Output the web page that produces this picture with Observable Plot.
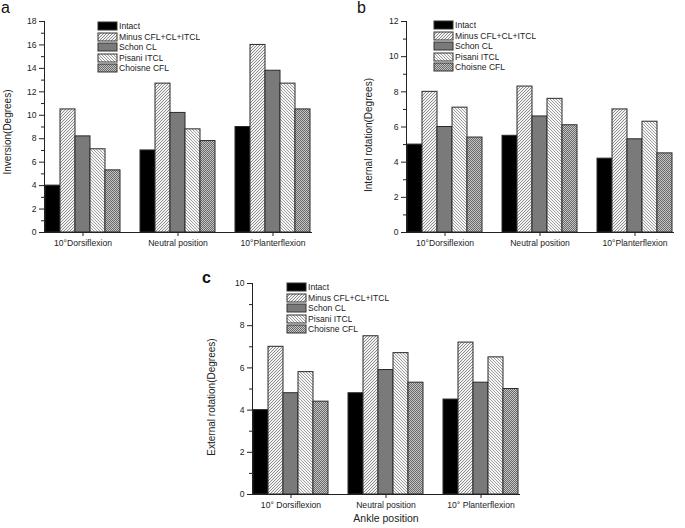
<!DOCTYPE html>
<html>
<head>
<meta charset="utf-8">
<script src="https://cdn.jsdelivr.net/npm/d3@7"></script>
<script src="https://cdn.jsdelivr.net/npm/@observablehq/plot@0.6"></script>
<style>
  body { margin: 0; background: #fff; font-family: Arial, "Liberation Sans", sans-serif; }
  #root { position: relative; width: 685px; height: 528px; overflow: hidden; background: #fff; }
  .panel { position: absolute; }
  .plab { position: absolute; font-size: 16px; color: #111; line-height: 1; }
  .ylab { position: absolute; font-size: 10px; color: #222; white-space: nowrap; line-height: 1;
          transform: translate(-50%, -50%) rotate(-90deg); }
  .lgwrap { position: absolute; }
  .lgwrap .lg-swatches { font-family: Arial, "Liberation Sans", sans-serif; font-size: 8.6px; color: #222; margin: 0; min-height: 0; }
  .lgwrap .lg-swatches-columns { columns: 1 !important; }
  .lgwrap .lg-swatch { padding-bottom: 0 !important; height: 10.5px; line-height: 10.5px; display: flex; align-items: center; }
  .lgwrap .lg-swatch > svg { margin-right: 2px !important; }
  .lgwrap .lg-swatch rect { stroke: #333; stroke-width: 1px; }
</style>
</head>
<body>
<svg width="0" height="0" style="position:absolute">
  <defs>
    <pattern id="pMinus" patternUnits="userSpaceOnUse" width="3" height="3">
      <rect width="3" height="3" fill="#f2f2f2"/>
      <path d="M-1,1 L1,-1 M0,3 L3,0 M2,4 L4,2" stroke="#6a6a6a" stroke-width="0.75"/>
    </pattern>
    <pattern id="pPisani" patternUnits="userSpaceOnUse" width="3" height="3">
      <rect width="3" height="3" fill="#f6f6f6"/>
      <path d="M-1,2 L1,4 M0,0 L3,3 M2,-1 L4,1" stroke="#7a7a7a" stroke-width="0.7"/>
    </pattern>
    <pattern id="pChoisne" patternUnits="userSpaceOnUse" width="2" height="2">
      <rect width="2" height="2" fill="#c4c4c4"/>
      <rect width="1" height="1" fill="#6a6a6a"/>
      <rect x="1" y="1" width="1" height="1" fill="#6a6a6a"/>
    </pattern>
  </defs>
</svg>
<div id="root"></div>
<script>
// ---- data ----
const series = ["Intact", "Minus CFL+CL+ITCL", "Schon CL", "Pisani ITCL", "Choisne CFL"];
const fills = ["#000000", "url(#pMinus)", "#7a7a7a", "url(#pPisani)", "url(#pChoisne)"];
const positionsAB = ["10°Dorsiflexion", "Neutral position", "10°Planterflexion"];
const positionsC = ["10° Dorsiflexion", "Neutral position", "10° Planterflexion"];

// values per series (rows) at each ankle position (columns)
const inversion = [
  [4.0, 7.0, 9.0],
  [10.5, 12.7, 16.0],
  [8.2, 10.2, 13.8],
  [7.1, 8.8, 12.7],
  [5.3, 7.8, 10.5]
];
const internalRotation = [
  [5.0, 5.5, 4.2],
  [8.0, 8.3, 7.0],
  [6.0, 6.6, 5.3],
  [7.1, 7.6, 6.3],
  [5.4, 6.1, 4.5]
];
const externalRotation = [
  [4.0, 4.8, 4.5],
  [7.0, 7.5, 7.2],
  [4.8, 5.9, 5.3],
  [5.8, 6.7, 6.5],
  [4.4, 5.3, 5.0]
];

const yMaxA = 18, yMaxB = 12, yMaxC = 10;
const labelA = "Inversion(Degrees)";
const labelB = "Internal rotation(Degrees)";
const labelC = "External rotation(Degrees)";
const xTitle = "Ankle position";

// ---- drawing ----
const root = document.getElementById("root");
const font = "Arial, 'Liberation Sans', sans-serif";

function addDiv(cls, text, x, y, extra) {
  const d = document.createElement("div");
  d.className = cls;
  d.textContent = text;
  d.style.left = x + "px";
  d.style.top = y + "px";
  if (extra) Object.assign(d.style, extra);
  root.appendChild(d);
}

function panel(o) {
  const rows = [];
  series.forEach((s, i) => o.cats.forEach((c, j) => rows.push({pos: c, series: s, value: o.values[i][j]})));
  const marks = [
    Plot.barY(rows, {fx: "pos", x: "series", y: "value", fill: "series", stroke: "#2a2a2a", strokeWidth: 1}),
    Plot.axisY({ticks: d3.range(0, o.yMax + 1, 2), tickSize: 5, tickPadding: 3, label: null, fontSize: 8.6}),
    Plot.axisY({ticks: d3.range(1, o.yMax, 2), tickSize: 3, text: null, label: null}),
    Plot.axisFx({anchor: "bottom", tickSize: 4, tickPadding: 3, label: null, fontSize: 8.6}),
    Plot.frame({facet: "super", anchor: "left", stroke: "#222"}),
    Plot.frame({facet: "super", anchor: "bottom", stroke: "#222"})
  ];
  if (o.xLabel) marks.push(Plot.text([o.xLabel], {text: d => d, facet: "super", frameAnchor: "bottom", dy: 27, fontSize: 10.5, fill: "#222"}));
  const chart = Plot.plot({
    width: o.width, height: o.height,
    marginLeft: o.ml, marginRight: o.mr, marginTop: o.mt, marginBottom: o.mb,
    style: {fontFamily: font, fontSize: "8.6px", color: "#222", background: "transparent", overflow: "visible"},
    fx: {domain: o.cats, paddingInner: 0.1875, paddingOuter: 0.09375, label: null},
    x: {domain: series, padding: 0, axis: null},
    y: {domain: [0, o.yMax], label: null},
    color: {domain: series, range: fills},
    marks
  });
  const wrap = document.createElement("div");
  wrap.className = "panel";
  wrap.style.left = o.left + "px";
  wrap.style.top = o.top + "px";
  wrap.appendChild(chart);
  root.appendChild(wrap);

  const lg = Plot.legend({color: {type: "ordinal", domain: series, range: fills}, columns: 1, swatchWidth: 19, swatchHeight: 8, className: "lg"});
  const lw = document.createElement("div");
  lw.className = "lgwrap";
  lw.style.left = o.lgLeft + "px";
  lw.style.top = o.lgTop + "px";
  lw.appendChild(lg);
  root.appendChild(lw);

  addDiv("ylab", o.yLabel, o.yLabelX, o.yLabelY);
  addDiv("plab", o.letter, o.letterX, o.letterY, o.letterBold ? {fontWeight: "bold"} : null);
}

panel({values: inversion, cats: positionsAB, yMax: yMaxA, yLabel: labelA, left: 0, top: 0, width: 345, height: 260,
  ml: 34, mr: 24, mt: 21, mb: 28, yLabelX: 8, yLabelY: 132, lgLeft: 98, lgTop: 21, letter: "a", letterX: 1, letterY: 0});
panel({values: internalRotation, cats: positionsAB, yMax: yMaxB, yLabel: labelB, left: 340, top: 0, width: 345, height: 260,
  ml: 56, mr: 2, mt: 21, mb: 28, yLabelX: 369, yLabelY: 135, lgLeft: 434, lgTop: 20, letter: "b", letterX: 357, letterY: 0});
panel({values: externalRotation, cats: positionsC, yMax: yMaxC, yLabel: labelC, xLabel: xTitle, left: 180, top: 265, width: 360, height: 263,
  ml: 62, mr: 11, mt: 18, mb: 34, yLabelX: 212, yLabelY: 397, lgLeft: 287, lgTop: 282, letter: "c", letterX: 202, letterY: 270, letterBold: true});
</script>
</body>
</html>
